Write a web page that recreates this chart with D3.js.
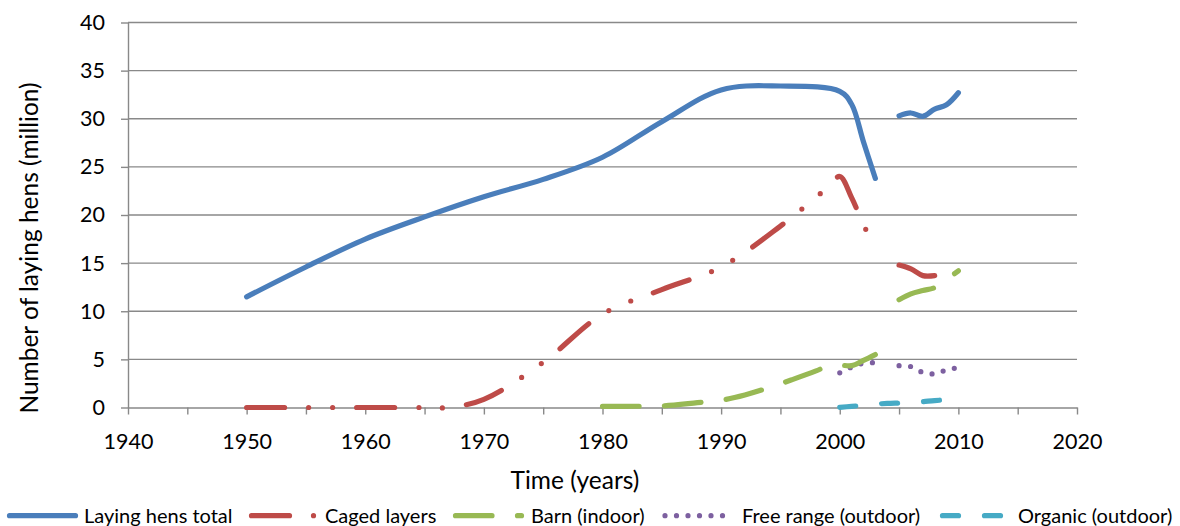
<!DOCTYPE html>
<html>
<head>
<meta charset="utf-8">
<script src="https://cdn.jsdelivr.net/npm/d3@7"></script>
<style>
  body { margin: 0; background: #fff; }
  text { font-family: Lato, "Open Sans", sans-serif; fill: #000; }
</style>
</head>
<body>
<div id="chart"></div>
<script>
// Data (million hens)
let totalYears = [1950,1955,1960,1965,1970,1975,1980,1985,1990,1995,2000,2001,2002,2003,2004,2005,2006,2007,2008,2009,2010];
let totalValues = [11.5,14.6,17.5,19.8,21.9,23.7,26.0,29.7,33.0,33.4,32.85,31.5,27.6,23.8,null,30.3,30.6,30.25,31.0,31.45,32.7];

let cagedYears = [1950,1955,1960,1965,1967,1970,1975,1980,1985,1990,1995,1999,2000,2001,2002,2003,2004,2005,2006,2007,2008];
let cagedValues = [0,0,0,0,0,0.85,4.7,9.7,12.25,14.6,18.85,22.9,24.0,21.8,19.0,16.5,null,14.8,14.4,13.7,13.7];

let barnYears = [1980,1983,1985,1988,1990,1992,1994,1996,1998,1999,2000,2001,2002,2003,2004,2005,2006,2007,2008,2009,2010];
let barnValues = [0.12,0.13,0.16,0.5,0.75,1.3,2.05,2.9,3.8,4.3,4.4,4.35,4.9,5.5,null,11.2,11.8,12.15,12.45,13.3,14.2];

let freeYears = [2000,2001,2002,2003,2004,2005,2006,2007,2008,2009,2010];
let freeValues = [3.6,4.2,4.6,4.65,null,4.35,4.25,3.65,3.5,3.9,4.15];

let organicYears = [2000,2001,2002,2003,2004,2005,2006,2007,2008,2009,2010];
let organicValues = [0.02,0.12,0.22,0.35,0.42,0.46,0.5,0.6,0.72,0.8,0.86];

let seriesNames = ['Laying hens total','Caged layers','Barn (indoor)','Free range (outdoor)','Organic (outdoor)'];
let yTicks = [0,5,10,15,20,25,30,35,40];
let xTicks = d3.range(1940, 2021, 5);

let width = 1180, height = 526;
let margin = {top: 22.5, bottom: 118.5, left: 128, right: 103};

let svg = d3.select('#chart')
  .append('svg')
  .attr('width', width)
  .attr('height', height);

let xScale = d3.scaleLinear()
  .domain([1940, 2020])
  .range([margin.left, width - margin.right]);

let yScale = d3.scaleLinear()
  .domain([0, 40])
  .range([height - margin.bottom, margin.top]);

let gridColor = '#898989';

// horizontal gridlines
svg.append('g')
  .selectAll('line')
  .data(yTicks.filter(d => d > 0))
  .enter()
  .append('line')
  .attr('x1', margin.left)
  .attr('x2', width - margin.right)
  .attr('y1', d => yScale(d))
  .attr('y2', d => yScale(d))
  .attr('stroke', gridColor)
  .attr('stroke-width', 1.4);

// axes
let yAxis = svg.append('g')
  .attr('transform', `translate(${margin.left},0)`)
  .call(d3.axisLeft(yScale).tickValues(yTicks).tickSize(7).tickSizeOuter(0).tickPadding(16));

let xAxis = svg.append('g')
  .attr('transform', `translate(0,${height - margin.bottom})`)
  .call(d3.axisBottom(xScale).tickValues(xTicks).tickSize(7).tickSizeOuter(0).tickPadding(19)
    .tickFormat(d => d % 10 === 0 ? d : ''));

[yAxis, xAxis].forEach(ax => {
  ax.select('.domain').attr('stroke', gridColor).attr('stroke-width', 1.4);
  ax.selectAll('.tick line').attr('stroke', gridColor).attr('stroke-width', 1.4);
  ax.selectAll('.tick text')
    .style('font-family', 'Lato, sans-serif')
    .style('font-size', '21.5px')
    .attr('fill', '#000');
});

// axis titles
svg.append('text')
  .attr('x', 575)
  .attr('y', 489)
  .text('Time (years)')
  .style('text-anchor', 'middle')
  .style('font-size', '24.5px');

svg.append('text')
  .attr('transform', 'translate(38,248) rotate(-90)')
  .text('Number of laying hens (million)')
  .style('text-anchor', 'middle')
  .style('font-size', '24.5px');

// series styles
let styles = [
  {color: '#4A7EBB', dash: null},
  {color: '#BE4B48', dash: '38 24 0 24 0 24'},
  {color: '#98B954', dash: '36.5 25.5'},
  {color: '#7D60A0', dash: '0 11.5'},
  {color: '#46AAC5', dash: '16 26'}
];

let allSeries = [
  [totalYears, totalValues],
  [cagedYears, cagedValues],
  [barnYears, barnValues],
  [freeYears, freeValues],
  [organicYears, organicValues]
];

// split a series into runs without gaps
function segments(years, values) {
  let out = [], cur = [];
  years.forEach((yr, i) => {
    if (values[i] === null) {
      if (cur.length) out.push(cur);
      cur = [];
    } else {
      cur.push({year: yr, value: values[i]});
    }
  });
  if (cur.length) out.push(cur);
  return out;
}

let line = d3.line()
  .x(d => xScale(d.year))
  .y(d => yScale(d.value))
  .curve(d3.curveCatmullRom.alpha(0.5));

// draw back to front so the total sits on top like the original
[4,3,2,1,0].forEach(i => {
  let st = styles[i];
  svg.append('g')
    .selectAll('path')
    .data(segments(allSeries[i][0], allSeries[i][1]))
    .enter()
    .append('path')
    .attr('d', line)
    .attr('fill', 'none')
    .attr('stroke', st.color)
    .attr('stroke-width', 5.2)
    .attr('stroke-linecap', 'round')
    .attr('stroke-linejoin', 'round')
    .attr('stroke-dasharray', st.dash);
});

// legend
let legendY = 515.7;
let legendItems = [
  {x1: 9.5, x2: 75.5, tx: 84},
  {x1: 251.5, x2: 317.5, tx: 325},
  {x1: 455.5, x2: 521.5, tx: 531},
  {x1: 665, x2: 725.5, tx: 742},
  {x1: 942.5, x2: 1003, tx: 1018}
];

let legend = svg.append('g');
legendItems.forEach((it, i) => {
  legend.append('line')
    .attr('x1', it.x1)
    .attr('x2', it.x2)
    .attr('y1', legendY)
    .attr('y2', legendY)
    .attr('stroke', styles[i].color)
    .attr('stroke-width', 5.2)
    .attr('stroke-linecap', 'round')
    .attr('stroke-dasharray', styles[i].dash);
  legend.append('text')
    .attr('x', it.tx)
    .attr('y', 522.7)
    .text(seriesNames[i])
    .style('font-size', '20px');
});
</script>
</body>
</html>
